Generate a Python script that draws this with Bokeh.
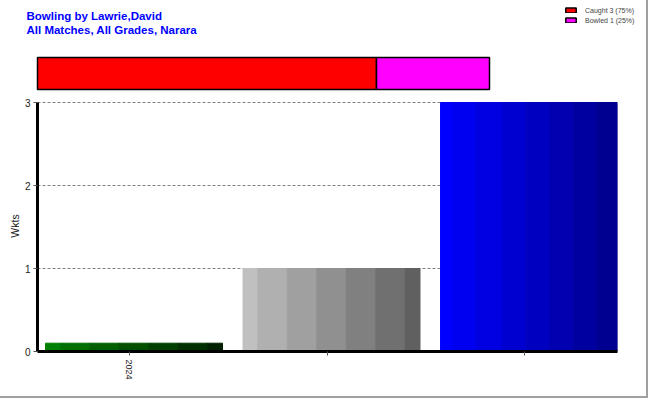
import math
from bokeh.plotting import figure
from bokeh.models import Range1d, FixedTicker, Legend, LegendItem, Label, ColumnDataSource
from bokeh.embed import file_html
from bokeh.resources import INLINE

# ---------------- data ----------------
title_lines = ["Bowling by Lawrie,David", "All Matches, All Grades, Narara"]
dismissal_types = ["Caught", "Bowled"]
dismissal_counts = [3, 1]
tick_labels = ["2024", "", ""]
bar_values = [0.1, 1, 3]
y_ticks = [0, 1, 2, 3]
y_axis_title = "Wkts"

# ---------------- styles / layout ----------------
FONT = "Liberation Sans"
dismissal_colors = ["#ff0000", "#ff00ff"]
grad_start = [(0, 128, 0), (192, 192, 192), (0, 0, 255)]
grad_end = [(0, 32, 0), (96, 96, 96), (0, 0, 140)]
W = 648
TOP_H = 96
MAIN_H = 302
EDGE = "2px solid #a0a0a0"

# ---------------- top strip: title, ratio bar, legend ----------------
ratio_left_px, ratio_px = 37, 452
bar_bottom_px, bar_h_px = 7, 32

top = figure(width=W, height=TOP_H, output_backend="svg", toolbar_location=None,
             x_axis_type=None, y_axis_type=None,
             x_range=Range1d(-ratio_left_px / ratio_px, (W - ratio_left_px) / ratio_px),
             y_range=Range1d(-bar_bottom_px / bar_h_px, (TOP_H - bar_bottom_px) / bar_h_px),
             min_border=0, styles={"border-right": EDGE})
top.outline_line_color = None
top.grid.visible = False

total = sum(dismissal_counts)
items = []
cum = 0.0
for name, cnt, col in zip(dismissal_types, dismissal_counts, dismissal_colors):
    frac = cnt / total
    r = top.quad(left=[cum], right=[cum + frac], bottom=[0], top=[1],
                 fill_color=col, line_color="black", line_width=1.5)
    items.append(LegendItem(label=f"{name} {cnt} ({round(frac * 100)}%)", renderers=[r]))
    cum += frac

legend = Legend(items=items, location=(564, TOP_H - 24),
                label_text_font=FONT, label_text_font_size="7px", label_text_color="#444444",
                glyph_width=13, glyph_height=6, label_height=8, label_standoff=8,
                spacing=2, padding=0, margin=0,
                border_line_color=None, background_fill_alpha=0)
top.add_layout(legend)

for i, line in enumerate(title_lines):
    top.add_layout(Label(x=26, y=TOP_H - 15 - 14.5 * i, x_units="screen", y_units="screen",
                         text=line, text_font=FONT, text_font_size="11.5px",
                         text_font_style="bold", text_color="#0000ff",
                         text_baseline="alphabetic"))

# ---------------- main chart ----------------
bar_width = 0.896
x_lo, x_hi = -0.4886, 2.448
tick_shift = -0.0228
y_top = max(y_ticks) * 251 / 249   # tiny headroom so the top gridline shows

main = figure(width=W, height=MAIN_H, output_backend="svg", toolbar_location=None,
              x_range=Range1d(x_lo, x_hi), y_range=Range1d(0, y_top),
              min_border_left=37, min_border_right=31, min_border_top=4, min_border_bottom=47,
              styles={"border-right": EDGE, "border-bottom": EDGE})
main.outline_line_color = None


def quant(c):
    return max(0, min(255, int(round(c / 16.0) * 16)))


n_slices = 60
src = dict(left=[], right=[], top=[], color=[])
for i, v in enumerate(bar_values):
    s, e = grad_start[i], grad_end[i]
    runs = []
    for k in range(n_slices):
        t = k / (n_slices - 1)
        rgb = [quant(s[j] + (e[j] - s[j]) * t) for j in range(3)]
        col = "#%02x%02x%02x" % tuple(rgb)
        l = i - bar_width / 2 + k * bar_width / n_slices
        r = l + bar_width / n_slices
        if runs and runs[-1][2] == col:
            runs[-1][1] = r
        else:
            runs.append([l, r, col])
    for l, r, col in runs:
        src["left"].append(l)
        src["right"].append(r)
        src["top"].append(v)
        src["color"].append(col)

main.quad(left="left", right="right", bottom=0, top="top", fill_color="color",
          line_color="color", line_width=1, source=ColumnDataSource(src))

main.xgrid.visible = False
main.ygrid.grid_line_color = "#808080"
main.ygrid.grid_line_dash = "3 2"
main.ygrid.grid_line_width = 1

x_tick_pos = [i + tick_shift for i in range(len(bar_values))]
main.xaxis.ticker = FixedTicker(ticks=x_tick_pos)
main.xaxis.major_label_overrides = {p: lbl for p, lbl in zip(x_tick_pos, tick_labels)}
main.xaxis.major_label_orientation = -math.pi / 2
main.yaxis.ticker = FixedTicker(ticks=y_ticks)
main.yaxis.bounds = (0, max(y_ticks))
main.yaxis.axis_label = y_axis_title

for ax in (main.xaxis[0], main.yaxis[0]):
    ax.axis_line_width = 3
    ax.axis_line_color = "black"
    ax.major_tick_line_color = "#555555"
    ax.major_tick_out = 4
    ax.major_tick_in = 0
    ax.minor_tick_line_color = None
    ax.major_label_text_font = FONT
    ax.major_label_text_color = "#222222"
    ax.major_label_standoff = 3

main.xaxis.major_label_standoff = 4
main.xaxis.major_label_text_font_size = "9px"
main.yaxis.major_label_text_font_size = "10px"
main.yaxis.axis_label_text_font = FONT
main.yaxis.axis_label_text_font_size = "10.5px"
main.yaxis.axis_label_text_font_style = "normal"
main.yaxis.axis_label_text_color = "#222222"
main.yaxis.axis_label_standoff = 1

open("out.html", "w").write(file_html([top, main], INLINE))
